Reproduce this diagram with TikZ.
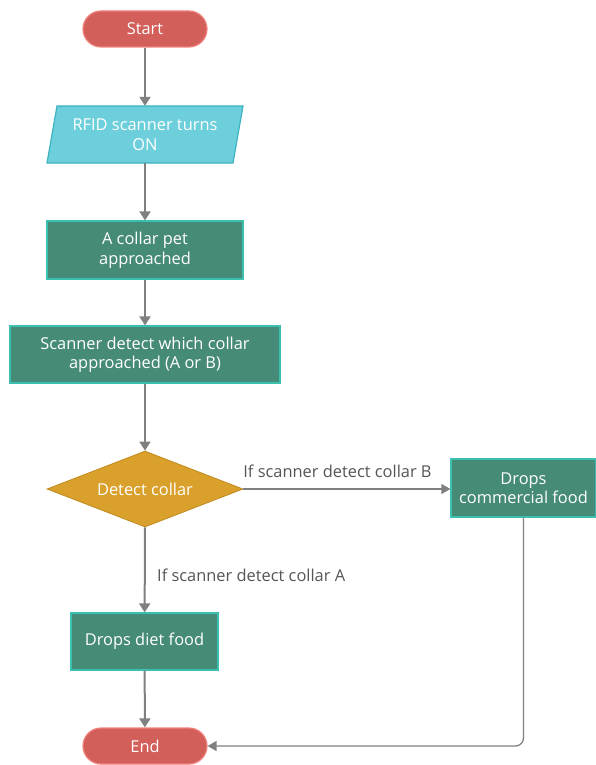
\documentclass[tikz,border=0pt]{standalone}
\usepackage{fontspec}
\setmainfont{Open Sans}
\usetikzlibrary{shapes.geometric,arrows.meta}
\definecolor{termfill}{HTML}{D35F5A}
\definecolor{termdraw}{HTML}{F0827C}
\definecolor{iofill}{HTML}{6DCFDB}
\definecolor{iodraw}{HTML}{3BB3C2}
\definecolor{procfill}{HTML}{468A78}
\definecolor{procdraw}{HTML}{3CBFAE}
\definecolor{decfill}{HTML}{D9A02B}
\definecolor{decdraw}{HTML}{C08A20}
\definecolor{linegray}{HTML}{808080}
\definecolor{labelgray}{HTML}{555555}
\begin{document}
\begin{tikzpicture}[x=1pt,y=-1pt,
  every node/.style={font=\fontsize{16.4}{19.5}\selectfont, text=white, align=center, inner sep=0pt},
  term/.style={rounded corners=18pt, fill=termfill, draw=termdraw, line width=1.2pt, minimum width=124pt, minimum height=36pt},
  proc/.style={fill=procfill, draw=procdraw, line width=1.2pt},
  flow/.style={draw=linegray, line width=2pt, -{Triangle[length=9pt,width=11pt]}},
  thin flow/.style={draw=linegray, line width=1.3pt, -{Triangle[length=9pt,width=10pt]}},
  lbl/.style={text=labelgray, font=\fontsize{16.4}{19}\selectfont}
]
\useasboundingbox (0,0) rectangle (596,765);
\node[term] (start) at (145,29) {Start};
\fill[iofill, draw=iodraw, line width=1.2pt] (57,106) -- (243,106) -- (233,163) -- (47,163) -- cycle;
\node[minimum width=186pt, minimum height=57pt] (rfid) at (145,134.5) {RFID scanner turns\\ON};
\node[proc, minimum width=196pt, minimum height=58pt] (pet) at (145,250) {A collar pet\\approached};
\node[proc, minimum width=270pt, minimum height=57pt] (scan) at (145,354.5) {Scanner detect which collar\\approached (A or B)};
\node[diamond, fill=decfill, draw=decdraw, line width=0.8pt, minimum width=196pt, minimum height=76pt, aspect=2.58] (dec) at (145,489) {Detect collar};
\node[proc, minimum width=145pt, minimum height=58pt] (comm) at (523.5,488) {Drops\\commercial food};
\node[proc, minimum width=147pt, minimum height=57pt] (diet) at (144.5,641.5) {Drops diet food};
\node[term] (end) at (145,746) {End};
\draw[flow] (start) -- (rfid);
\draw[flow] (rfid) -- (pet);
\draw[flow] (pet) -- (scan);
\draw[flow] (scan) -- (dec.north);
\draw[thin flow] (dec.east) -- (comm.west |- dec.east);
\draw[flow] (dec.south) -- (diet);
\draw[flow] (diet) -- (end);
\draw[thin flow, rounded corners=8pt] (comm.south) -- (comm.south |- end.east) -- (end.east);
\node[lbl, anchor=south] at (337.5,478) {If scanner detect collar B};
\node[lbl, anchor=west] at (157,575) {If scanner detect collar A};
\end{tikzpicture}
\end{document}
